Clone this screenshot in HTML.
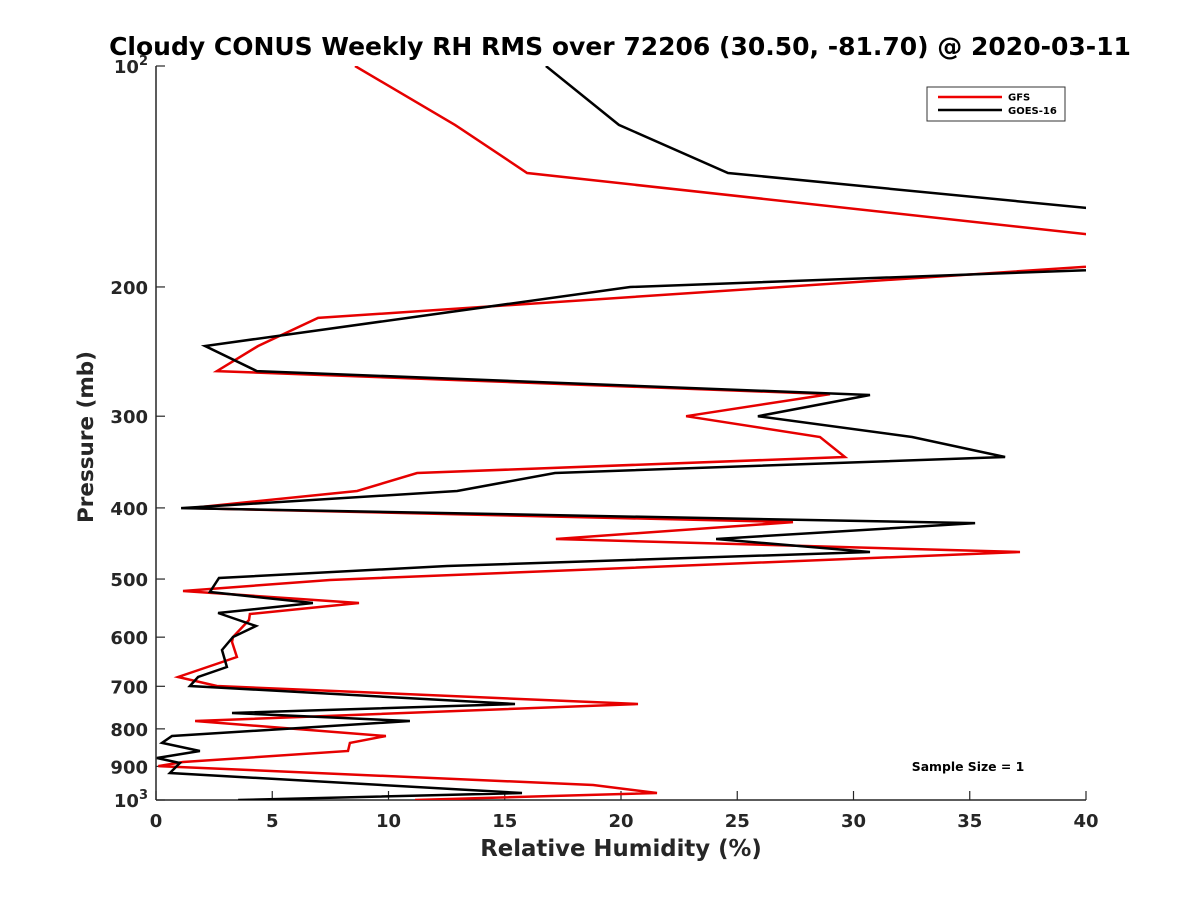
<!DOCTYPE html>
<html><head><meta charset="utf-8"><style>
body{margin:0;background:#fff}
svg{display:block;font-family:"DejaVu Sans","Liberation Sans",sans-serif}
</style></head><body>
<svg id="chart" width="1200" height="900" viewBox="0 0 1200 900">
<defs><clipPath id="plotclip"><rect x="156" y="66" width="930" height="734"/></clipPath></defs>
<rect width="1200" height="900" fill="#fff"/>
<text x="620" y="55" text-anchor="middle" font-size="25" font-weight="bold">Cloudy CONUS Weekly RH RMS over 72206 (30.50, -81.70) @ 2020-03-11</text>
<g id="axes"></g>
<g id="series" clip-path="url(#plotclip)"></g>
<g>
<rect x="927" y="87" width="138" height="34" fill="#fff" stroke="#333" stroke-width="1"/>
<line x1="938" y1="97" x2="1002" y2="97" stroke="#e00" stroke-width="2.5"/>
<text x="1008" y="100.5" font-size="10" font-weight="bold">GFS</text>
<line x1="938" y1="110" x2="1002" y2="110" stroke="#000" stroke-width="2.5"/>
<text x="1008" y="114" font-size="10" font-weight="bold">GOES-16</text>
</g>
<text x="968" y="771" text-anchor="middle" font-size="12.4" font-weight="bold">Sample Size = 1</text>
<text x="621" y="856" text-anchor="middle" font-size="22.8" font-weight="bold" fill="#262626">Relative Humidity (%)</text>
<text transform="translate(93,437) rotate(-90)" text-anchor="middle" font-size="21.5" font-weight="bold" fill="#262626">Pressure (mb)</text>
</svg>
<script>
const xTicks=[0,5,10,15,20,25,30,35,40];
const yTicks=[100,200,300,400,500,600,700,800,900,1000];
const yTickLabels=["10^2","200","300","400","500","600","700","800","900","10^3"];
const gfsRH=[8.56,12.86,15.96,45.0,45.0,6.97,4.39,2.62,28.99,22.8,28.56,29.63,11.23,8.65,1.46,27.4,17.2,37.16,7.48,1.16,8.73,4.04,4.0,3.31,3.27,3.48,0.95,2.62,20.73,1.68,9.89,8.34,8.26,1.16,0.1,18.8,21.55,11.14];
const gfsP=[100,120.3,139.9,176.4,183.2,220.4,240.7,260.4,279.9,300,320.2,341,358.5,379.3,400.2,418.2,441,459.4,501.5,519.1,539,558,568.6,599.7,609,638.5,679.8,699.3,740,780.5,818,836.1,857.5,887.7,899,954.1,978.4,1000];
const goesRH=[16.77,19.91,24.6,44.9,44.9,20.39,2.11,4.34,30.71,25.89,32.52,36.52,17.16,12.95,1.08,35.23,24.09,30.71,12.52,2.71,2.32,6.75,2.67,4.3,3.31,2.84,3.05,1.81,1.46,15.44,3.27,10.92,0.69,0.26,1.89,0.04,1.03,0.6,15.74,3.53];
const goesP=[100,120.3,139.9,161.6,187.3,200,240.7,260.4,280.7,300,320.2,341,358.5,379.3,400.2,419.5,441,459.4,480,498.4,520.7,539,556.2,579.4,599.7,624.6,658.8,679.8,699.3,740,761.2,780.5,818,836.1,857.5,876.6,890.5,918.9,978.4,1000];
const NS="http://www.w3.org/2000/svg";
const X0=156,X1=1086,Y0=66,Y1=800;
function xs(v){return X0+(v-0)/(40-0)*(X1-X0);}
function ys(p){return Y0+(Math.log10(p)-2)*(Y1-Y0);}
function mk(tag,attrs,parent){const e=document.createElementNS(NS,tag);for(const k in attrs)e.setAttribute(k,attrs[k]);parent.appendChild(e);return e;}
const axes=document.getElementById('axes');
const yl=mk('line',{x1:X0,y1:Y0,x2:X0,y2:Y1,stroke:'#262626','stroke-width':1.5},axes);


const xl=mk('line',{x1:X0,y1:Y1,x2:X1,y2:Y1,stroke:'#262626','stroke-width':1.5},axes);


xTicks.forEach(v=>{
  const x=xs(v);
  const t=mk('line',{x1:x,y1:Y1,x2:x,y2:Y1-9,stroke:'#262626','stroke-width':1.2},axes);
  
  
  const l=mk('text',{x:x,y:Y1+27,'text-anchor':'middle','font-size':18,'font-weight':'bold',fill:'#262626'},axes);
  l.textContent=String(v);
  
  
});
yTicks.forEach((p,i)=>{
  const y=ys(p);
  const t=mk('line',{x1:X0,y1:y,x2:X0+9,y2:y,stroke:'#262626','stroke-width':1.2},axes);
  
  
  const lab=yTickLabels[i];
  const l=mk('text',{x:X0-8,y:y+7,'text-anchor':'end','font-size':18,'font-weight':'bold',fill:'#262626'},axes);
  if(lab.indexOf('^')>0){
    const parts=lab.split('^');
    l.textContent=parts[0];
    const s=mk('tspan',{dy:-8,'font-size':13},l);
    s.textContent=parts[1];
  } else l.textContent=lab;
  
  
});
const ser=document.getElementById('series');
function drawLine(rh,p,color,name){
  const pts=rh.map((v,i)=>xs(v).toFixed(1)+','+ys(p[i]).toFixed(1)).join(' ');
  const pl=mk('polyline',{points:pts,fill:'none',stroke:color,'stroke-width':2.5,'stroke-linejoin':'miter'},ser);
  
  
}
drawLine(gfsRH,gfsP,'#e60000','gfs-line');
drawLine(goesRH,goesP,'#000000','goes-16-line');
</script>
</body></html>
